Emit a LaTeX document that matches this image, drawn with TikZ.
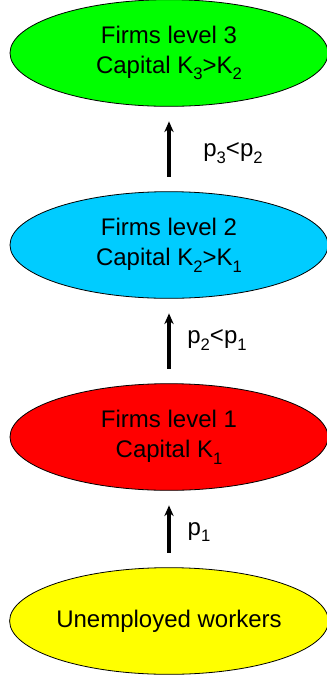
\documentclass[tikz,border=0pt]{standalone}
\usepackage{fontspec}
\setmainfont{Liberation Sans}
\usetikzlibrary{shapes.geometric,arrows.meta}

\definecolor{levelgreen}{HTML}{00FF00}
\definecolor{levelblue}{HTML}{00CCFF}
\definecolor{levelred}{HTML}{FF0000}
\definecolor{levelyellow}{HTML}{FFFF00}

% lowered subscript in the text font
\newcommand{\lowsub}[1]{\raisebox{-0.28em}{\fontsize{12.5}{12.5}\selectfont #1}}

\tikzset{
  pool/.style={ellipse,draw=black,line width=0.6pt,minimum width=238.5pt,
    minimum height=80pt,inner sep=0pt,align=center,
    font=\fontsize{18}{22.5}\selectfont},
  move/.style={-{Stealth[length=8pt,width=7pt]},line width=2.5pt,
    shorten <=11pt,shorten >=11pt},
  prob/.style={font=\fontsize{18}{22.5}\selectfont}
}

\begin{document}
\begin{tikzpicture}[x=0.75pt,y=-0.75pt]
\useasboundingbox (0,0) rectangle (327,676);

\node[pool,fill=levelgreen] (firms3) at (169,53) {Firms level 3\\Capital K\lowsub{3}>K\lowsub{2}};
\node[pool,fill=levelblue] (firms2) at (169,245) {Firms level 2\\Capital K\lowsub{2}>K\lowsub{1}};
\node[pool,fill=levelred] (firms1) at (169,437) {Firms level 1\\Capital K\lowsub{1}};
\node[pool,fill=levelyellow] (unemp) at (169,621) {Unemployed workers};

\draw[move] (unemp) -- (firms1);
\draw[move] (firms1) -- (firms2);
\draw[move] (firms2) -- (firms3);

\node[prob] (p1) at (199,532) {p\lowsub{1}};
\node[prob] (p21) at (217,340) {p\lowsub{2}<p\lowsub{1}};
\node[prob] (p32) at (233,153) {p\lowsub{3}<p\lowsub{2}};
\end{tikzpicture}
\end{document}
